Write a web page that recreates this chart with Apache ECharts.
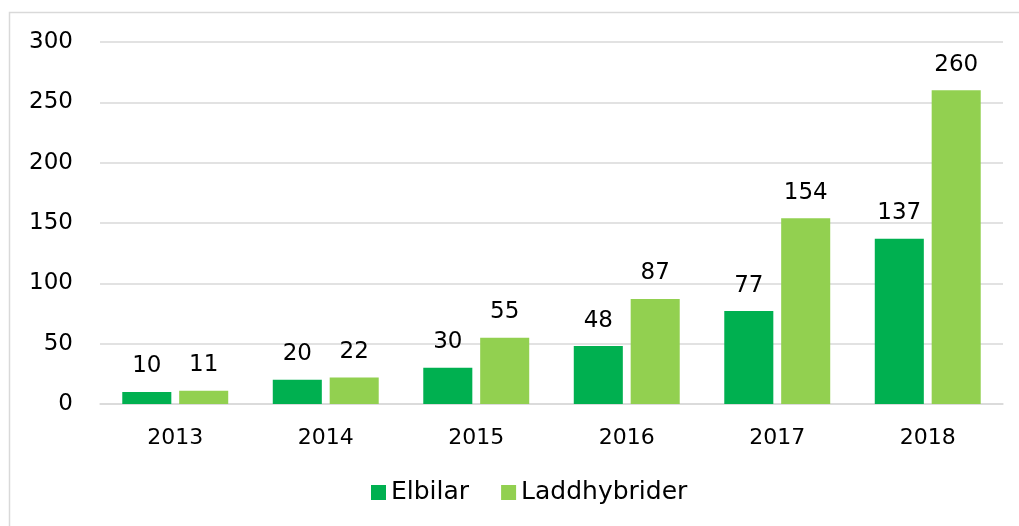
<!DOCTYPE html>
<html>
<head>
<meta charset="utf-8">
<script src="https://cdn.jsdelivr.net/npm/echarts@6/dist/echarts.min.js"></script>
<style>
  html, body { margin: 0; padding: 0; background: #fff; }
  #chart { width: 1019px; height: 526px; }
</style>
</head>
<body>
<div id="chart"></div>
<script>
const years = ['2013', '2014', '2015', '2016', '2017', '2018']
const elbilar = [10, 20, 30, 48, 77, 137]
const laddhybrider = [11, 22, 55, 87, 154, 260]

const font = '"DejaVu Sans", sans-serif'
const chart = echarts.init(document.getElementById('chart'))

const labelStyle = { show: true, position: 'top', distance: 14, fontSize: 23, color: '#000', fontFamily: font }

chart.setOption({
  animation: false,
  textStyle: { fontFamily: font },
  graphic: [{
    type: 'rect',
    shape: { x: 9.5, y: 12.5, width: 1030, height: 540 },
    style: { fill: 'none', stroke: '#d9d9d9', lineWidth: 1.5 },
    silent: true
  }],
  grid: { left: 100, right: 16, top: 42, bottom: 122 },
  legend: {
    bottom: 16,
    left: 366,
    itemWidth: 15,
    itemHeight: 15,
    itemGap: 32,
    icon: 'rect',
    textStyle: { fontSize: 25, color: '#000', fontFamily: font },
    data: ['Elbilar', 'Laddhybrider']
  },
  xAxis: {
    type: 'category',
    data: years,
    axisLine: { lineStyle: { color: '#d9d9d9', width: 1.5 } },
    axisTick: { show: false },
    axisLabel: { fontSize: 22, color: '#000', margin: 23, fontFamily: font }
  },
  yAxis: {
    type: 'value',
    min: 0,
    max: 300,
    interval: 50,
    axisLine: { show: false },
    axisTick: { show: false },
    splitLine: { lineStyle: { color: '#d9d9d9', width: 1.5 } },
    axisLabel: { fontSize: 23, color: '#000', margin: 27, fontFamily: font }
  },
  series: [
    {
      name: 'Elbilar',
      type: 'bar',
      data: elbilar,
      barGap: '16%',
      barCategoryGap: '29.6%',
      itemStyle: { color: '#00b050' },
      label: labelStyle
    },
    {
      name: 'Laddhybrider',
      type: 'bar',
      data: laddhybrider,
      barGap: '16%',
      barCategoryGap: '29.6%',
      itemStyle: { color: '#92d050' },
      label: labelStyle
    }
  ]
})

window.addEventListener('resize', () => chart.resize())
</script>
</body>
</html>
